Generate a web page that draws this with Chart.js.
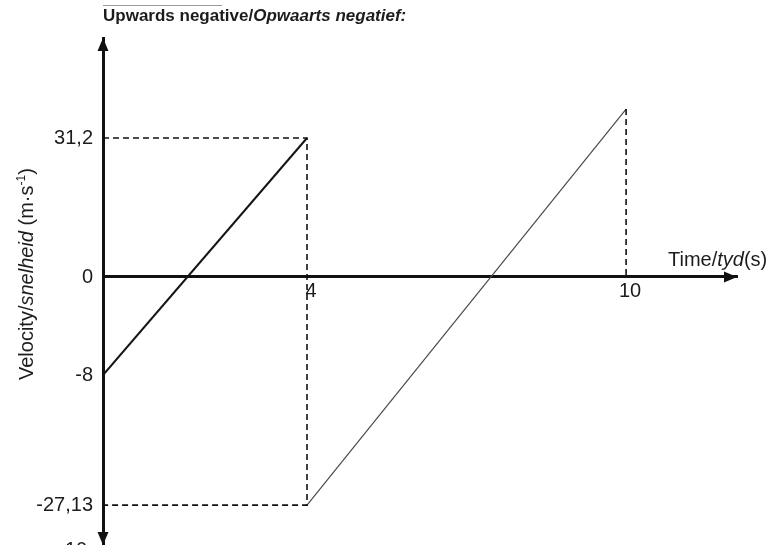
<!DOCTYPE html>
<html>
<head>
<meta charset="utf-8">
<script src="https://cdn.jsdelivr.net/npm/chart.js@4/dist/chart.umd.min.js"></script>
<style>
  html, body { margin: 0; padding: 0; background: #fff; }
  #wrap { width: 768px; height: 545px; position: relative; }
</style>
</head>
<body>
<div id="wrap"><canvas id="chart"></canvas></div>
<script>
// values as labelled on the sketch
const times1 = [0, 4];
const velocity1 = [-8, 31.2];
const times2 = [4, 10];
const velocity2 = [-27.13, 37.7];   // end value is not labelled
const yTickValues = [31.2, 0, -8, -27.13];
const xTickValues = [4, 10];

// the sketch is not drawn to scale: where each labelled value sits on its axis
const yKnots = [-27.13, -8, 0, 31.2];
const yLevels = [-51.2, -22, 0, 31.2];
const xKnots = [0, 4, 10];
const xLevels = [0, 3.9, 10];

const FONT = "'Liberation Sans', Arial, sans-serif";
const INK = '#1c1c1c';

function piecewise(v, from, to) {
  let i = 0;
  while (i < from.length - 2 && v > from[i + 1]) i++;
  const t = (v - from[i]) / (from[i + 1] - from[i]);
  return to[i] + t * (to[i + 1] - to[i]);
}

const warps = { x: [xKnots, xLevels], y: [yKnots, yLevels] };

const Linear = Chart.LinearScale || Chart.registry.getScale('linear');
class SketchScale extends Linear {
  getPixelForValue(v) {
    if (v === null || v === undefined) return NaN;
    const w = warps[this.id];
    return super.getPixelForValue(w ? piecewise(v, w[0], w[1]) : v);
  }
  getValueForPixel(p) {
    const w = warps[this.id];
    const l = super.getValueForPixel(p);
    return w ? piecewise(l, w[1], w[0]) : l;
  }
}
SketchScale.id = 'sketch';
SketchScale.defaults = Linear.defaults;
Chart.register(SketchScale);

const pts = (xs, ys) => xs.map((x, i) => ({ x: x, y: ys[i] }));
const commaLabel = v => String(v).replace('.', ',');

// mixed-style text: runs of [text, style]
function drawRuns(ctx, runs, x, y, size) {
  let cx = x;
  for (const [text, style] of runs) {
    let s = size, dy = 0, st = style;
    if (style === 'sup') { s = Math.round(size * 0.62); dy = -size * 0.42; st = ''; }
    ctx.font = (st ? st + ' ' : '') + s + 'px ' + FONT;
    ctx.fillText(text, cx, y + dy);
    cx += ctx.measureText(text).width;
  }
}

function arrow(ctx, tx, ty, dx, dy) {
  // tip at (tx,ty), pointing along (dx,dy)
  const len = 13, half = 5.5;
  const bx = tx - dx * len, by = ty - dy * len;
  ctx.beginPath();
  ctx.moveTo(tx, ty);
  ctx.lineTo(bx - dy * half, by + dx * half);
  ctx.lineTo(bx + dy * half, by - dx * half);
  ctx.closePath();
  ctx.fill();
}

const sketchDecor = {
  id: 'sketchDecor',
  afterDraw(chart) {
    const { ctx, chartArea } = chart;
    const y0 = chart.scales.y.getPixelForValue(0);
    ctx.save();
    ctx.fillStyle = '#111';
    arrow(ctx, chartArea.left, chartArea.top, 0, -1);
    arrow(ctx, chartArea.left, chartArea.bottom, 0, 1);
    arrow(ctx, chartArea.right, y0, 1, 0);

    ctx.fillStyle = INK;
    ctx.textBaseline = 'alphabetic';
    ctx.textAlign = 'left';
    // heading
    drawRuns(ctx, [['Upwards negative/', 'bold'], ['Opwaarts negatief:', 'italic bold']], 103, 21, 17);
    ctx.strokeStyle = '#999';
    ctx.lineWidth = 1;
    ctx.beginPath();
    ctx.moveTo(103, 5.5);
    ctx.lineTo(222, 5.5);
    ctx.stroke();
    // x axis title
    drawRuns(ctx, [['Time/', ''], ['tyd', 'italic'], ['(s)', '']], 668, 266, 20);
    // y axis title
    ctx.save();
    ctx.translate(33, 380);
    ctx.rotate(-Math.PI / 2);
    drawRuns(ctx, [['Velocity/', ''], ['snelheid', 'italic'], [' (m·s', ''], ['-1', 'sup'], [')', '']], 0, 0, 20);
    ctx.restore();
    // number of the next item, cut by the page edge
    drawRuns(ctx, [['10', '']], 65, 556, 20);
    ctx.restore();
  }
};

new Chart(document.getElementById('chart'), {
  type: 'line',
  data: {
    datasets: [
      {
        data: [
          { x: 0, y: velocity1[1] }, { x: times1[1], y: velocity1[1] },
          { x: times2[0], y: velocity2[0] }, { x: 0, y: velocity2[0] }
        ],
        borderColor: '#111', borderWidth: 1.6, borderDash: [6, 4], pointRadius: 0
      },
      {
        data: [{ x: times2[1], y: velocity2[1] }, { x: times2[1], y: 0 }],
        borderColor: '#111', borderWidth: 1.6, borderDash: [6, 4], pointRadius: 0
      },
      { data: pts(times1, velocity1), borderColor: '#141414', borderWidth: 2, pointRadius: 0 },
      { data: pts(times2, velocity2), borderColor: '#4a4a4a', borderWidth: 1.2, pointRadius: 0 }
    ]
  },
  options: {
    responsive: true,
    maintainAspectRatio: false,
    animation: false,
    devicePixelRatio: 1,
    events: [],
    layout: { padding: { left: 0, right: 31, top: 38, bottom: 0 } },
    plugins: { legend: { display: false }, tooltip: { enabled: false }, title: { display: false } },
    scales: {
      x: {
        type: 'sketch',
        position: { y: 0 },
        min: 0,
        max: 12.12,
        grid: { display: false, drawTicks: false },
        border: { display: true, color: '#111', width: 3 },
        ticks: { color: INK, font: { family: FONT, size: 20 }, padding: 2, labelOffset: 4, callback: commaLabel, maxRotation: 0 },
        afterBuildTicks: s => { s.ticks = xTickValues.map(v => ({ value: v })); },
        afterFit: s => { s.paddingLeft = 0; s.paddingRight = 0; }
      },
      y: {
        type: 'sketch',
        min: -60.16,
        max: 53.65,
        grid: { display: false, drawTicks: false },
        border: { display: true, color: '#111', width: 3 },
        ticks: { color: INK, font: { family: FONT, size: 20 }, padding: 10, callback: commaLabel, autoSkip: false },
        afterBuildTicks: s => { s.ticks = yTickValues.map(v => ({ value: v })); },
        afterFit: s => { s.width = 103; s.paddingTop = 0; s.paddingBottom = 0; }
      }
    }
  },
  plugins: [sketchDecor]
});
</script>
</body>
</html>
